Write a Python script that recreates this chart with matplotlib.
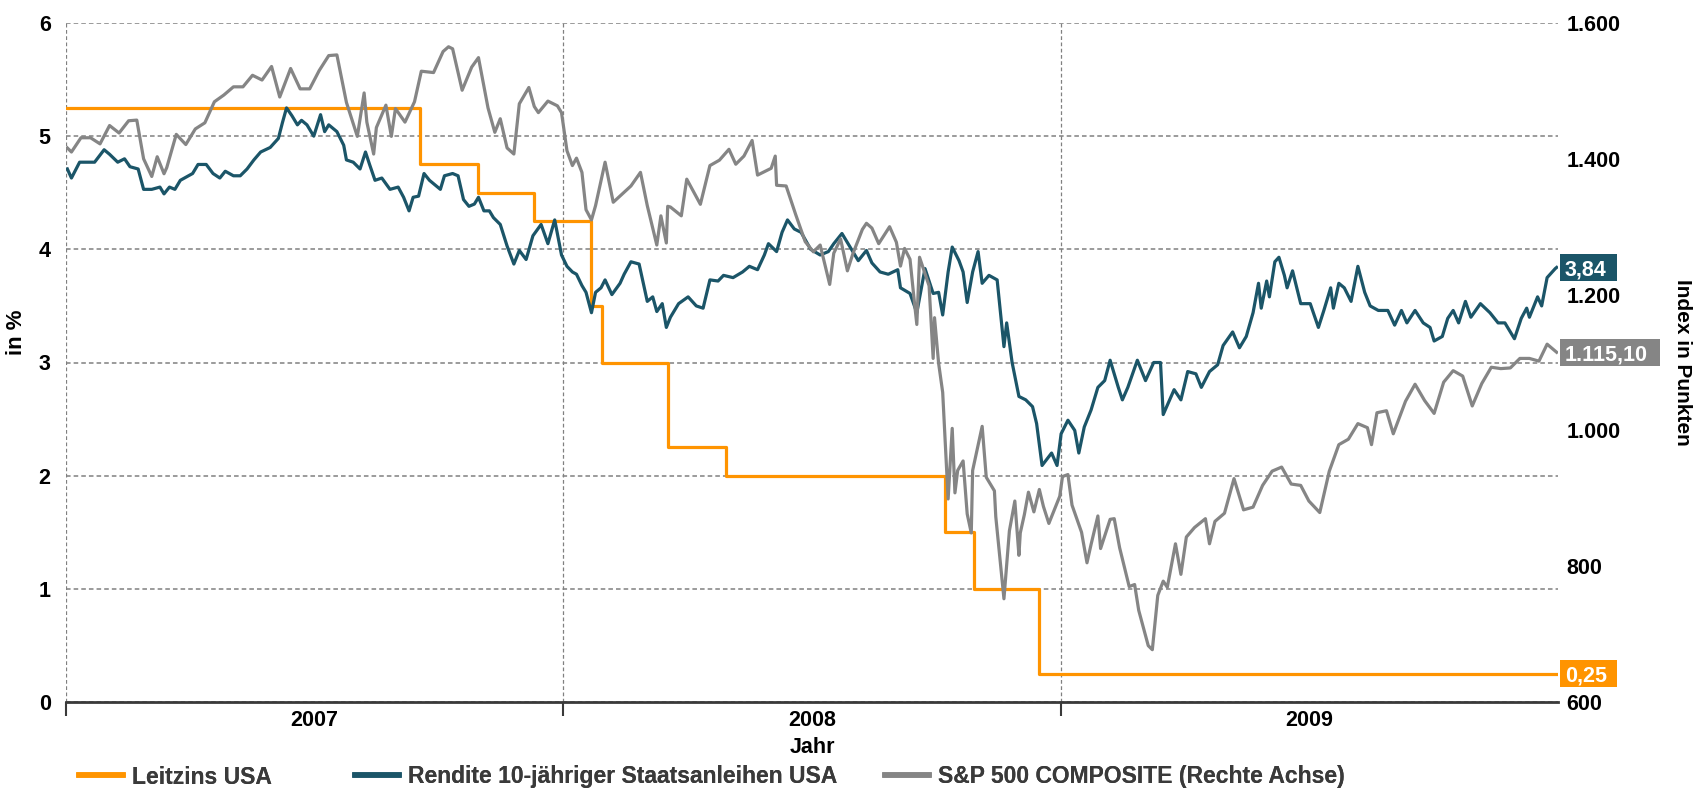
import datetime as dt
import matplotlib
matplotlib.use("Agg")
import matplotlib.pyplot as plt
from matplotlib.lines import Line2D
from matplotlib.patches import Rectangle
from matplotlib.ticker import FuncFormatter
import matplotlib.transforms as mtransforms

plt.rcParams['font.family'] = ['Liberation Sans', 'DejaVu Sans']
plt.rcParams['font.weight'] = 'bold'

# Leitzins USA (Fed Funds Target), Stufen
fed_dates = ["2007-01-01", "2007-09-18", "2007-10-31", "2007-12-11", "2008-01-22",
             "2008-01-30", "2008-03-18", "2008-04-30", "2008-10-08", "2008-10-29",
             "2008-12-16", "2009-12-31"]
fed_rate = [5.25, 4.75, 4.50, 4.25, 3.50, 3.00, 2.25, 2.00, 1.50, 1.00, 0.25, 0.25]

# Rendite 10-jähriger Staatsanleihen USA
bond_dates = [
    "2007-01-02", "2007-01-05", "2007-01-11", "2007-01-17", "2007-01-22", "2007-01-29",
    "2007-02-02", "2007-02-08", "2007-02-13", "2007-02-17", "2007-02-23", "2007-02-27",
    "2007-03-05", "2007-03-11", "2007-03-14", "2007-03-18", "2007-03-22", "2007-03-26",
    "2007-04-04", "2007-04-08", "2007-04-14", "2007-04-19", "2007-04-24", "2007-04-28",
    "2007-05-04", "2007-05-09", "2007-05-14", "2007-05-19", "2007-05-24", "2007-05-31",
    "2007-06-06", "2007-06-09", "2007-06-12", "2007-06-16", "2007-06-20", "2007-06-23",
    "2007-06-27", "2007-07-02", "2007-07-07", "2007-07-10", "2007-07-13", "2007-07-19",
    "2007-07-24", "2007-07-26", "2007-07-31", "2007-08-05", "2007-08-09", "2007-08-12",
    "2007-08-16", "2007-08-21", "2007-08-27", "2007-09-02", "2007-09-06", "2007-09-10",
    "2007-09-13", "2007-09-17", "2007-09-21", "2007-09-25", "2007-10-03", "2007-10-06",
    "2007-10-12", "2007-10-16", "2007-10-20", "2007-10-24", "2007-10-28", "2007-10-31",
    "2007-11-04", "2007-11-08", "2007-11-11", "2007-11-16", "2007-11-21", "2007-11-26",
    "2007-11-30", "2007-12-05", "2007-12-10", "2007-12-16", "2007-12-21", "2007-12-26",
    "2007-12-31",
    "2008-01-04", "2008-01-08", "2008-01-11", "2008-01-15", "2008-01-18", "2008-01-22",
    "2008-01-25", "2008-01-29", "2008-02-01", "2008-02-06", "2008-02-12", "2008-02-15",
    "2008-02-20", "2008-02-26", "2008-03-03", "2008-03-07", "2008-03-10", "2008-03-14",
    "2008-03-17", "2008-03-20", "2008-03-26", "2008-04-02", "2008-04-08", "2008-04-13",
    "2008-04-18", "2008-04-24", "2008-04-28", "2008-05-05", "2008-05-12", "2008-05-17",
    "2008-05-23", "2008-05-28", "2008-05-31", "2008-06-06", "2008-06-10", "2008-06-14",
    "2008-06-19", "2008-06-24", "2008-07-01", "2008-07-08", "2008-07-14", "2008-07-18",
    "2008-07-24", "2008-07-30", "2008-08-05", "2008-08-11", "2008-08-15", "2008-08-21",
    "2008-08-27", "2008-09-03", "2008-09-05", "2008-09-12", "2008-09-17", "2008-09-23",
    "2008-09-29", "2008-10-03", "2008-10-06", "2008-10-10", "2008-10-13", "2008-10-18",
    "2008-10-21", "2008-10-24", "2008-10-28", "2008-11-01", "2008-11-04", "2008-11-09",
    "2008-11-15", "2008-11-20", "2008-11-22", "2008-11-26", "2008-12-01", "2008-12-06",
    "2008-12-11", "2008-12-14", "2008-12-18", "2008-12-25", "2008-12-29",
    "2009-01-01", "2009-01-06", "2009-01-11", "2009-01-14", "2009-01-18", "2009-01-23",
    "2009-01-28", "2009-02-02", "2009-02-06", "2009-02-12", "2009-02-15", "2009-02-19",
    "2009-02-26", "2009-03-04", "2009-03-10", "2009-03-15", "2009-03-17", "2009-03-25",
    "2009-03-30", "2009-04-04", "2009-04-10", "2009-04-14", "2009-04-20", "2009-04-26",
    "2009-04-30", "2009-05-07", "2009-05-12", "2009-05-17", "2009-05-22", "2009-05-26",
    "2009-05-28", "2009-06-01", "2009-06-03", "2009-06-07", "2009-06-10", "2009-06-14",
    "2009-06-16", "2009-06-20", "2009-06-26", "2009-07-03", "2009-07-09", "2009-07-13",
    "2009-07-18", "2009-07-20", "2009-07-24", "2009-07-28", "2009-08-02", "2009-08-07",
    "2009-08-12", "2009-08-16", "2009-08-22", "2009-08-29", "2009-09-03", "2009-09-08",
    "2009-09-12", "2009-09-18", "2009-09-24", "2009-09-29", "2009-10-02", "2009-10-08",
    "2009-10-12", "2009-10-16", "2009-10-20", "2009-10-25", "2009-10-29", "2009-11-05",
    "2009-11-12", "2009-11-18", "2009-11-23", "2009-11-30", "2009-12-05", "2009-12-09",
    "2009-12-11", "2009-12-17", "2009-12-20", "2009-12-24", "2009-12-27", "2009-12-30",
    "2009-12-31"]
bond_yield = [
    4.71, 4.63, 4.77, 4.77, 4.77, 4.88, 4.84, 4.77, 4.80, 4.73, 4.71, 4.53,
    4.53, 4.55, 4.49, 4.55, 4.53, 4.61, 4.67, 4.75, 4.75, 4.67, 4.63, 4.69,
    4.65, 4.65, 4.71, 4.79, 4.86, 4.90, 4.98, 5.12, 5.25, 5.18, 5.10, 5.14,
    5.10, 5.00, 5.19, 5.04, 5.10, 5.04, 4.92, 4.79, 4.77, 4.71, 4.86, 4.75,
    4.61, 4.63, 4.53, 4.55, 4.46, 4.34, 4.46, 4.47, 4.67, 4.61, 4.53, 4.65,
    4.67, 4.65, 4.44, 4.38, 4.40, 4.46, 4.34, 4.34, 4.28, 4.22, 4.03, 3.87,
    3.99, 3.91, 4.12, 4.22, 4.05, 4.26, 3.95,
    3.85, 3.80, 3.78, 3.68, 3.62, 3.44, 3.62, 3.66, 3.73, 3.60, 3.70, 3.78,
    3.89, 3.87, 3.54, 3.58, 3.45, 3.52, 3.31, 3.40, 3.52, 3.58, 3.50, 3.48,
    3.73, 3.72, 3.77, 3.75, 3.80, 3.85, 3.82, 3.95, 4.05, 3.98, 4.15, 4.26,
    4.18, 4.15, 4.00, 3.95, 3.98, 4.05, 4.14, 4.02, 3.90, 3.99, 3.88, 3.80,
    3.78, 3.82, 3.66, 3.61, 3.44, 3.83, 3.61, 3.62, 3.42, 3.80, 4.02, 3.90,
    3.80, 3.53, 3.80, 3.98, 3.70, 3.77, 3.73, 3.14, 3.35, 3.00, 2.70, 2.67,
    2.61, 2.46, 2.09, 2.20, 2.09,
    2.37, 2.49, 2.40, 2.20, 2.43, 2.58, 2.78, 2.84, 3.02, 2.78, 2.67, 2.78,
    3.02, 2.84, 3.00, 3.00, 2.54, 2.76, 2.67, 2.92, 2.90, 2.78, 2.92, 2.98,
    3.15, 3.27, 3.13, 3.23, 3.44, 3.70, 3.48, 3.72, 3.58, 3.89, 3.93, 3.77,
    3.66, 3.81, 3.52, 3.52, 3.31, 3.46, 3.66, 3.48, 3.70, 3.66, 3.54, 3.85,
    3.62, 3.50, 3.46, 3.46, 3.33, 3.46, 3.35, 3.46, 3.35, 3.31, 3.19, 3.23,
    3.39, 3.46, 3.35, 3.54, 3.40, 3.52, 3.44, 3.35, 3.35, 3.21, 3.39, 3.48,
    3.40, 3.58, 3.50, 3.75, 3.79, 3.83, 3.84]

# S&P 500 COMPOSITE (rechte Achse)
spx_dates = [
    "2007-01-02", "2007-01-05", "2007-01-12", "2007-01-19", "2007-01-26", "2007-02-02",
    "2007-02-09", "2007-02-16", "2007-02-22", "2007-02-27", "2007-03-02", "2007-03-05",
    "2007-03-09", "2007-03-14", "2007-03-16", "2007-03-23", "2007-03-30", "2007-04-06",
    "2007-04-13", "2007-04-20", "2007-04-27", "2007-05-04", "2007-05-11", "2007-05-18",
    "2007-05-25", "2007-06-01", "2007-06-07", "2007-06-15", "2007-06-22", "2007-06-29",
    "2007-07-06", "2007-07-13", "2007-07-19", "2007-07-26", "2007-08-03", "2007-08-08",
    "2007-08-10", "2007-08-15", "2007-08-17", "2007-08-24", "2007-08-28", "2007-08-31",
    "2007-09-07", "2007-09-14", "2007-09-19", "2007-09-28", "2007-10-05", "2007-10-09",
    "2007-10-12", "2007-10-19", "2007-10-26", "2007-10-31", "2007-11-07", "2007-11-12",
    "2007-11-16", "2007-11-21", "2007-11-26", "2007-11-30", "2007-12-07", "2007-12-11",
    "2007-12-14", "2007-12-21", "2007-12-28", "2007-12-31",
    "2008-01-04", "2008-01-08", "2008-01-11", "2008-01-15", "2008-01-18", "2008-01-22",
    "2008-01-25", "2008-02-01", "2008-02-07", "2008-02-14", "2008-02-20", "2008-02-27",
    "2008-03-03", "2008-03-10", "2008-03-13", "2008-03-17", "2008-03-18", "2008-03-20",
    "2008-03-28", "2008-04-01", "2008-04-11", "2008-04-18", "2008-04-25", "2008-05-02",
    "2008-05-07", "2008-05-13", "2008-05-19", "2008-05-23", "2008-06-02", "2008-06-05",
    "2008-06-06", "2008-06-13", "2008-06-20", "2008-06-27", "2008-07-03", "2008-07-08",
    "2008-07-15", "2008-07-18", "2008-07-23", "2008-07-28", "2008-08-01", "2008-08-08",
    "2008-08-11", "2008-08-15", "2008-08-20", "2008-08-28", "2008-09-02", "2008-09-05",
    "2008-09-08", "2008-09-12", "2008-09-15", "2008-09-17", "2008-09-19", "2008-09-26",
    "2008-09-29", "2008-09-30", "2008-10-03", "2008-10-06", "2008-10-10", "2008-10-13",
    "2008-10-15", "2008-10-17", "2008-10-21", "2008-10-24", "2008-10-27", "2008-10-28",
    "2008-10-31", "2008-11-04", "2008-11-07", "2008-11-13", "2008-11-14", "2008-11-20",
    "2008-11-24", "2008-11-28", "2008-12-01", "2008-12-02", "2008-12-05", "2008-12-08",
    "2008-12-12", "2008-12-16", "2008-12-19", "2008-12-23", "2008-12-31",
    "2009-01-02", "2009-01-06", "2009-01-09", "2009-01-16", "2009-01-20", "2009-01-23",
    "2009-01-28", "2009-01-30", "2009-02-06", "2009-02-09", "2009-02-13", "2009-02-20",
    "2009-02-24", "2009-02-27", "2009-03-06", "2009-03-09", "2009-03-13", "2009-03-17",
    "2009-03-20", "2009-03-26", "2009-03-30", "2009-04-03", "2009-04-09", "2009-04-17",
    "2009-04-20", "2009-04-24", "2009-05-01", "2009-05-08", "2009-05-15", "2009-05-22",
    "2009-05-29", "2009-06-05", "2009-06-12", "2009-06-19", "2009-06-26", "2009-07-02",
    "2009-07-10", "2009-07-17", "2009-07-24", "2009-07-31", "2009-08-07", "2009-08-14",
    "2009-08-17", "2009-08-21", "2009-08-28", "2009-09-02", "2009-09-11", "2009-09-18",
    "2009-09-25", "2009-10-02", "2009-10-09", "2009-10-16", "2009-10-23", "2009-10-30",
    "2009-11-06", "2009-11-13", "2009-11-20", "2009-11-27", "2009-12-04", "2009-12-11",
    "2009-12-18", "2009-12-24", "2009-12-31"]
spx_close = [
    1416, 1410, 1431, 1431, 1422, 1449, 1438, 1456, 1457, 1400, 1387, 1374,
    1403, 1378, 1387, 1436, 1421, 1444, 1453, 1484, 1494, 1506, 1506, 1523,
    1516, 1536, 1491, 1533, 1503, 1503, 1530, 1552, 1553, 1483, 1433, 1497,
    1454, 1407, 1446, 1479, 1433, 1474, 1454, 1484, 1529, 1527, 1558, 1565,
    1562, 1501, 1535, 1549, 1475, 1439, 1459, 1416, 1407, 1481, 1505, 1477,
    1468, 1485, 1478, 1468,
    1412, 1390, 1401, 1380, 1325, 1310, 1331, 1395, 1336, 1349, 1360, 1380,
    1331, 1273, 1316, 1276, 1330, 1329, 1316, 1370, 1333, 1390, 1398, 1414,
    1392, 1404, 1427, 1376, 1386, 1404, 1361, 1360, 1318, 1278, 1263, 1273,
    1215, 1261, 1282, 1235, 1260, 1296, 1305, 1298, 1275, 1300, 1277, 1242,
    1268, 1252, 1193, 1156, 1255, 1213, 1106, 1166, 1099, 1056, 899, 1003,
    908, 941, 955, 877, 849, 941, 969, 1006, 931, 911, 873, 752,
    852, 896, 816, 849, 876, 909, 880, 913, 888, 863, 903,
    932, 935, 890, 850, 805, 832, 874, 826, 869, 870, 827, 770,
    773, 735, 683, 677, 757, 778, 769, 833, 788, 843, 857, 870,
    833, 866, 878, 929, 883, 887, 919, 940, 946, 921, 919, 896,
    879, 940, 979, 987, 1010, 1004, 979, 1026, 1029, 995, 1043, 1068,
    1044, 1025, 1071, 1088, 1080, 1036, 1069, 1093, 1091, 1092, 1106, 1106,
    1102, 1127, 1115.10]

year_labels = ["2007", "2008", "2009"]

c_fed = "#FF9400"
c_bond = "#1B5568"
c_spx = "#858585"
grid_c = "#808080"
fs = 15.5


def to_dates(lst):
    return [dt.datetime.strptime(s, "%Y-%m-%d") for s in lst]


fig = plt.figure(figsize=(16.96, 7.91), dpi=100)
ax = fig.add_axes([66 / 1696, 89 / 791, 1492 / 1696, 679 / 791])
ax2 = ax.twinx()

ax.plot(to_dates(fed_dates), fed_rate, color=c_fed, lw=2.3, drawstyle="steps-post")
ax.plot(to_dates(bond_dates), bond_yield, color=c_bond, lw=2.3)
ax2.plot(to_dates(spx_dates), spx_close, color=c_spx, lw=2.3)

ax.set_xlim(dt.datetime(2007, 1, 1), dt.datetime(2010, 1, 1))
ax.set_ylim(0, 6)
ax2.set_ylim(600, 1600)

for a in (ax, ax2):
    for s in a.spines.values():
        s.set_visible(False)
ax.spines["bottom"].set_visible(True)
ax.spines["bottom"].set_color("#3a3a3a")
ax.spines["bottom"].set_linewidth(2)

# Achsen und Gitter
year_starts = [dt.datetime(int(y), 1, 1) for y in year_labels]
year_mids = [dt.datetime(int(y), 7, 2) for y in year_labels]
ax.set_xticks(year_starts)
ax.set_xticklabels([])
ax.set_xticks(year_mids, minor=True)
ax.set_xticklabels(year_labels, minor=True)
ax.tick_params(axis="x", which="major", direction="out", length=10, width=1.5, color="#3a3a3a")
ax.tick_params(axis="x", which="minor", length=0, pad=6, labelsize=fs)
ax.xaxis.grid(True, which="major", ls=(0, (3, 2)), color=grid_c, lw=0.9)

ax.set_yticks(range(0, 7))
ax.tick_params(axis="y", length=0, pad=11, labelsize=fs)
ax.yaxis.grid(True, ls=(0, (3, 2)), color=grid_c, lw=1.1)
ax.set_axisbelow(True)

ax2.set_yticks(range(600, 1601, 200))
ax2.yaxis.set_major_formatter(FuncFormatter(lambda v, p: f"{int(v):,}".replace(",", ".")))
ax2.tick_params(axis="y", length=0, pad=6, labelsize=fs)

ax.set_xlabel("Jahr", fontsize=fs, fontweight="bold", labelpad=4)
ax.set_ylabel("in %", fontsize=16, fontweight="bold")
ax.yaxis.set_label_coords(-0.026, 0.545)
ax2.set_ylabel("Index in Punkten", fontsize=15, fontweight="bold", rotation=270, va="bottom")
ax2.yaxis.set_label_coords(1.077, 0.5)


# Wertkästchen am rechten Rand
def value_box(a, val, text, color, width_px, height_px):
    trans = mtransforms.blended_transform_factory(a.transAxes, a.transData)
    ax_w = a.get_position().width * fig.get_figwidth() * fig.dpi
    ax_h = a.get_position().height * fig.get_figheight() * fig.dpi
    ylim = a.get_ylim()
    h = height_px / ax_h * (ylim[1] - ylim[0])
    x0 = 1.0 + 2 / ax_w
    a.add_patch(Rectangle((x0, val - h / 2), width_px / ax_w, h, transform=trans,
                          facecolor=color, edgecolor="none", clip_on=False, zorder=5))
    a.text(x0 + 5 / ax_w, val, text, transform=trans, color="white", fontsize=fs,
           fontweight="bold", ha="left", va="center_baseline", zorder=6, clip_on=False)


value_box(ax, bond_yield[-1], f"{bond_yield[-1]:.2f}".replace(".", ","), c_bond, 57, 27)
value_box(ax, fed_rate[-1], f"{fed_rate[-1]:.2f}".replace(".", ","), c_fed, 57, 27)
value_box(ax2, spx_close[-1], "1.115,10", c_spx, 100, 27)

# Legende: drei Einträge, einzeln platziert
leg_items = [("Leitzins USA", c_fed, 79),
             ("Rendite 10-jähriger Staatsanleihen USA", c_bond, 355),
             ("S&P 500 COMPOSITE (Rechte Achse)", c_spx, 885)]
for label, color, xpix in leg_items:
    leg = fig.legend([Line2D([], [], color=color, lw=4)], [label], loc="center left",
                     bbox_to_anchor=(xpix / 1696, 14 / 791), frameon=False,
                     handlelength=1.9, handletextpad=0.42, borderaxespad=0, borderpad=0,
                     prop={"size": 16.5, "weight": "bold"})
    leg.get_texts()[0].set_color("#3a3a3a")
    fig.add_artist(leg)

fig.savefig("out.png", dpi=100)
